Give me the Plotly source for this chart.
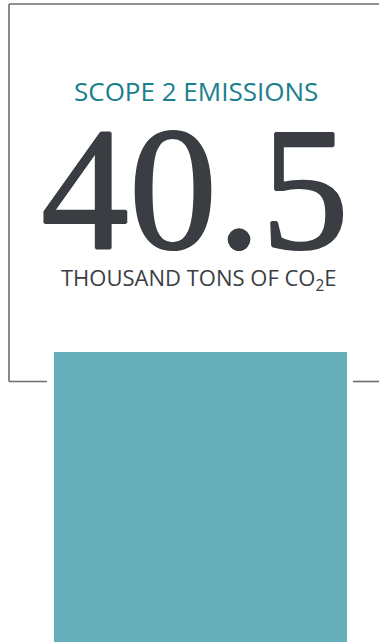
import plotly.graph_objects as go

W, H = 379, 642

categories = ["Scope 2"]
values = [40.5]
title_text = "SCOPE 2 EMISSIONS"
value_label = "40.5"
unit_label = "THOUSAND TONS OF CO<sub>2</sub>E"

TEAL_TEXT = "#1a808c"
DARK = "#3a3e42"
BAR = "#67afbb"
LINE = "#6a6d70"

# pixel layout of the bar (bar runs off the bottom of the picture)
bar_left, bar_right, bar_top = 54, 347, 352
bw = bar_right - bar_left
cx = (bar_left + bar_right) / 2
x_lo = -cx / bw
x_hi = (W - cx) / bw
frac = (H - bar_top) / H
y_lo = 1.5
y_hi = y_lo + (values[0] - y_lo) / frac

fig = go.Figure()
fig.add_trace(go.Bar(x=[0], y=values, width=[1], marker=dict(color=BAR, line=dict(width=0)),
                     hoverinfo="skip", name=categories[0]))

def px(x):
    return x / W

def py(y):
    return 1 - y / H

shapes = [
    dict(type="line", xref="paper", yref="paper", x0=px(9), x1=px(379), y0=py(4), y1=py(4),
         line=dict(color=LINE, width=1.6)),
    dict(type="line", xref="paper", yref="paper", x0=px(9), x1=px(9), y0=py(4), y1=py(381.5),
         line=dict(color=LINE, width=1.6)),
    dict(type="line", xref="paper", yref="paper", x0=px(9), x1=px(47), y0=py(381.5), y1=py(381.5),
         line=dict(color=LINE, width=1.6)),
    dict(type="line", xref="paper", yref="paper", x0=px(353), x1=px(379), y0=py(381.5), y1=py(381.5),
         line=dict(color=LINE, width=1.6)),
]

thick = ", ".join(f"{dx}px {dy}px 0 {DARK}" for dx, dy in [(1, 0), (-1, 0), (0, 1), (0, -1)])

annotations = [
    dict(text=title_text, x=px(196), y=py(91), xref="paper", yref="paper", showarrow=False,
         xanchor="center", yanchor="middle",
         font=dict(family="Open Sans", size=26, color=TEAL_TEXT)),
    dict(text=value_label, x=px(195), y=py(188), xref="paper", yref="paper", showarrow=False,
         xanchor="center", yanchor="middle",
         font=dict(family="Liberation Serif", size=176, color=DARK, shadow=thick)),
    dict(text=unit_label, x=px(198), y=py(279), xref="paper", yref="paper", showarrow=False,
         xanchor="center", yanchor="middle",
         font=dict(family="Open Sans", size=22, color=DARK)),
]

fig.update_layout(
    width=W, height=H,
    margin=dict(l=0, r=0, t=0, b=0),
    paper_bgcolor="white", plot_bgcolor="white",
    showlegend=False,
    xaxis=dict(range=[x_lo, x_hi], visible=False, fixedrange=True),
    yaxis=dict(range=[y_lo, y_hi], visible=False, fixedrange=True),
    shapes=shapes, annotations=annotations,
    bargap=0,
)

fig.write_html("out.html", config={"displayModeBar": False},
               post_script="document.body.style.margin='0';document.body.style.padding='0';"
                           "document.documentElement.style.overflow='hidden';"
                           "document.body.style.overflow='hidden';")
